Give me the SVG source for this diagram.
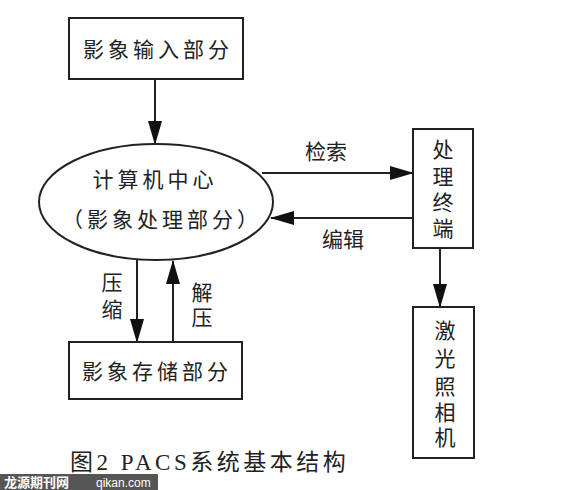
<svg xmlns="http://www.w3.org/2000/svg" width="570" height="490" viewBox="0 0 570 490">
<defs>
<marker id="ah" markerUnits="userSpaceOnUse" markerWidth="24" markerHeight="14" refX="23" refY="7" orient="auto">
<path d="M0,0 L24,7 L0,14 Z" fill="#111"/>
</marker>
<style>
.box{fill:#fff;stroke:#222;stroke-width:2}
.ln{stroke:#222;stroke-width:2;fill:none}
.t{font-family:"Liberation Serif","Noto Sans CJK SC",serif;font-size:21px;fill:#222;text-anchor:middle;dominant-baseline:central}
.sp{letter-spacing:4px}
</style>
</defs>
<rect width="570" height="490" fill="#fff"/>
<g id="connectors">
<line class="ln" x1="155" y1="79" x2="155" y2="144" marker-end="url(#ah)"/>
<line class="ln" x1="262" y1="173" x2="413" y2="173" marker-end="url(#ah)"/>
<line class="ln" x1="413" y1="218" x2="271" y2="218" marker-end="url(#ah)"/>
<line class="ln" x1="440" y1="248" x2="440" y2="307" marker-end="url(#ah)"/>
<line class="ln" x1="137" y1="260" x2="137" y2="342" marker-end="url(#ah)"/>
<line class="ln" x1="173" y1="342" x2="173" y2="261" marker-end="url(#ah)"/>
<text class="t" x="326" y="152">检索</text>
<text class="t" x="343" y="240">编辑</text>
<text class="t" x="112" y="283">压</text>
<text class="t" x="112" y="310">缩</text>
<text class="t" x="202" y="293">解</text>
<text class="t" x="202" y="318">压</text>
</g>
<g id="input">
<rect class="box" x="69" y="18" width="174" height="61"/>
<text class="t sp" x="158" y="50">影象输入部分</text>
</g>
<g id="center">
<ellipse class="box" cx="156" cy="202" rx="117" ry="58"/>
<text class="t sp" x="155" y="180">计算机中心</text>
<text class="t" x="162" y="220" style="letter-spacing:4px">（影象处理部分）</text>
</g>
<g id="terminal">
<rect class="box" x="413" y="129" width="60" height="119"/>
<text class="t" x="443" y="150">处</text>
<text class="t" x="443" y="177">理</text>
<text class="t" x="443" y="203">终</text>
<text class="t" x="443" y="229">端</text>
</g>
<g id="storage">
<rect class="box" x="69" y="342" width="173" height="57"/>
<text class="t sp" x="157" y="372">影象存储部分</text>
</g>
<g id="laser">
<rect class="box" x="413" y="307" width="61" height="151"/>
<text class="t" x="445" y="331">激</text>
<text class="t" x="445" y="359">光</text>
<text class="t" x="445" y="387">照</text>
<text class="t" x="445" y="413">相</text>
<text class="t" x="445" y="438">机</text>
</g>
<text class="t" x="70" y="462" style="font-size:23px;text-anchor:start;letter-spacing:3.5px">图2 PACS系统基本结构</text>
<rect x="0" y="474" width="158" height="16" fill="#555"/>
<text x="4" y="487" style="font-family:'Noto Sans CJK SC',sans-serif;font-size:13px;font-weight:bold;fill:#fff">龙源期刊网</text>
<text x="96" y="487" style="font-family:'Liberation Sans',sans-serif;font-size:12px;fill:#fff">qikan.com</text>
</svg>
